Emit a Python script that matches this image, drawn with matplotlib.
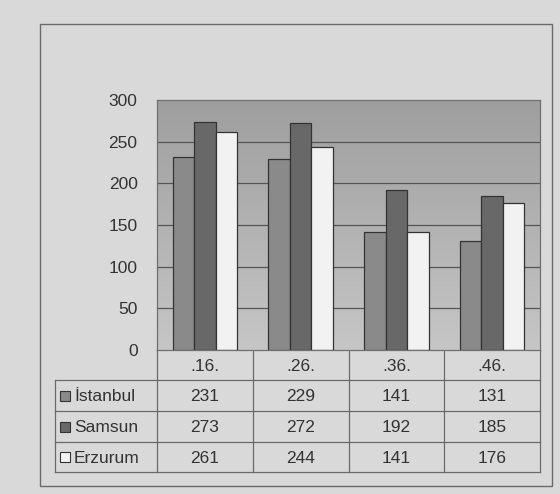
import numpy as np
import matplotlib.pyplot as plt
from matplotlib.patches import Rectangle
from matplotlib.colors import LinearSegmentedColormap

plt.rcParams['font.family'] = ['Liberation Sans', 'DejaVu Sans']

# Veriler
donemler = ['.16.', '.26.', '.36.', '.46.']
seriler = ['İstanbul', 'Samsun', 'Erzurum']
istanbul = [231, 229, 141, 131]
samsun = [273, 272, 192, 185]
erzurum = [261, 244, 141, 176]
degerler = [istanbul, samsun, erzurum]
renkler = ['#8a8a8a', '#686868', '#f2f2f2']
yticks = [0, 50, 100, 150, 200, 250, 300]

W, H = 560, 494
fs = 12.5
txt_c = '#333333'
fig = plt.figure(figsize=(W / 100, H / 100), dpi=100)
fig.patch.set_facecolor('#d9d9d9')

# tüm figürü kaplayan piksel koordinatlı eksen (çerçeve ve tablo için)
bg = fig.add_axes([0, 0, 1, 1])
bg.set_xlim(0, W)
bg.set_ylim(H, 0)
bg.axis('off')
bg.add_patch(Rectangle((40, 24), 512, 462, fill=False, ec='#6a6a6a', lw=1.0))

# grafik alanı
x0, x1, y0, y1 = 157, 540, 100, 350
ax = fig.add_axes([x0 / W, 1 - y1 / H, (x1 - x0) / W, (y1 - y0) / H])
grad = np.linspace(0, 1, 256).reshape(-1, 1)
cmap = LinearSegmentedColormap.from_list('g', ['#c6c6c6', '#9e9e9e'])
ax.imshow(grad, extent=[-0.5, len(donemler) - 0.5, 0, 300], aspect='auto',
          cmap=cmap, origin='lower', zorder=0)
ax.set_xlim(-0.5, len(donemler) - 0.5)
ax.set_ylim(0, 300)
for t in yticks[1:-1]:
    ax.axhline(t, color='#555555', lw=0.9, zorder=1)

x = np.arange(len(donemler))
w = 0.225
for i, (vals, c) in enumerate(zip(degerler, renkler)):
    ax.bar(x + (i - 1) * w, vals, w, color=c, edgecolor='#333333', lw=0.9, zorder=2)

ax.set_yticks(yticks)
ax.set_xticks([])
ax.tick_params(axis='y', length=0, labelsize=fs, labelcolor=txt_c, pad=14)
for s in ax.spines.values():
    s.set_color('#707070')
    s.set_linewidth(0.9)

# veri tablosu
col_w = (x1 - x0) / len(donemler)
lx = 55
row_y = [350, 380, 411, 442, 472]
line_c = '#6a6a6a'
# başlık satırı
for j in range(len(donemler) + 1):
    xx = x0 + j * col_w
    bg.plot([xx, xx], [row_y[0], row_y[-1]], color=line_c, lw=0.9)
for j, d in enumerate(donemler):
    bg.text(x0 + (j + 0.5) * col_w, (row_y[0] + row_y[1]) / 2 + 1, d,
            ha='center', va='center', fontsize=fs, color=txt_c)
# seri satırları
for r in range(len(seriler) + 1):
    bg.plot([lx, x1], [row_y[r + 1], row_y[r + 1]], color=line_c, lw=0.9)
bg.plot([lx, lx], [row_y[1], row_y[-1]], color=line_c, lw=0.9)
for i, (ad, vals, c) in enumerate(zip(seriler, degerler, renkler)):
    yc = (row_y[i + 1] + row_y[i + 2]) / 2
    bg.add_patch(Rectangle((lx + 5, yc - 5), 10, 10, fc=c, ec='#333333', lw=0.8))
    bg.text(lx + 19, yc + 1, ad, ha='left', va='center', fontsize=fs, color=txt_c)
    for j, v in enumerate(vals):
        bg.text(x0 + (j + 0.5) * col_w, yc + 1, str(v),
                ha='center', va='center', fontsize=fs, color=txt_c)

fig.savefig('out.png', dpi=100, facecolor=fig.get_facecolor())
